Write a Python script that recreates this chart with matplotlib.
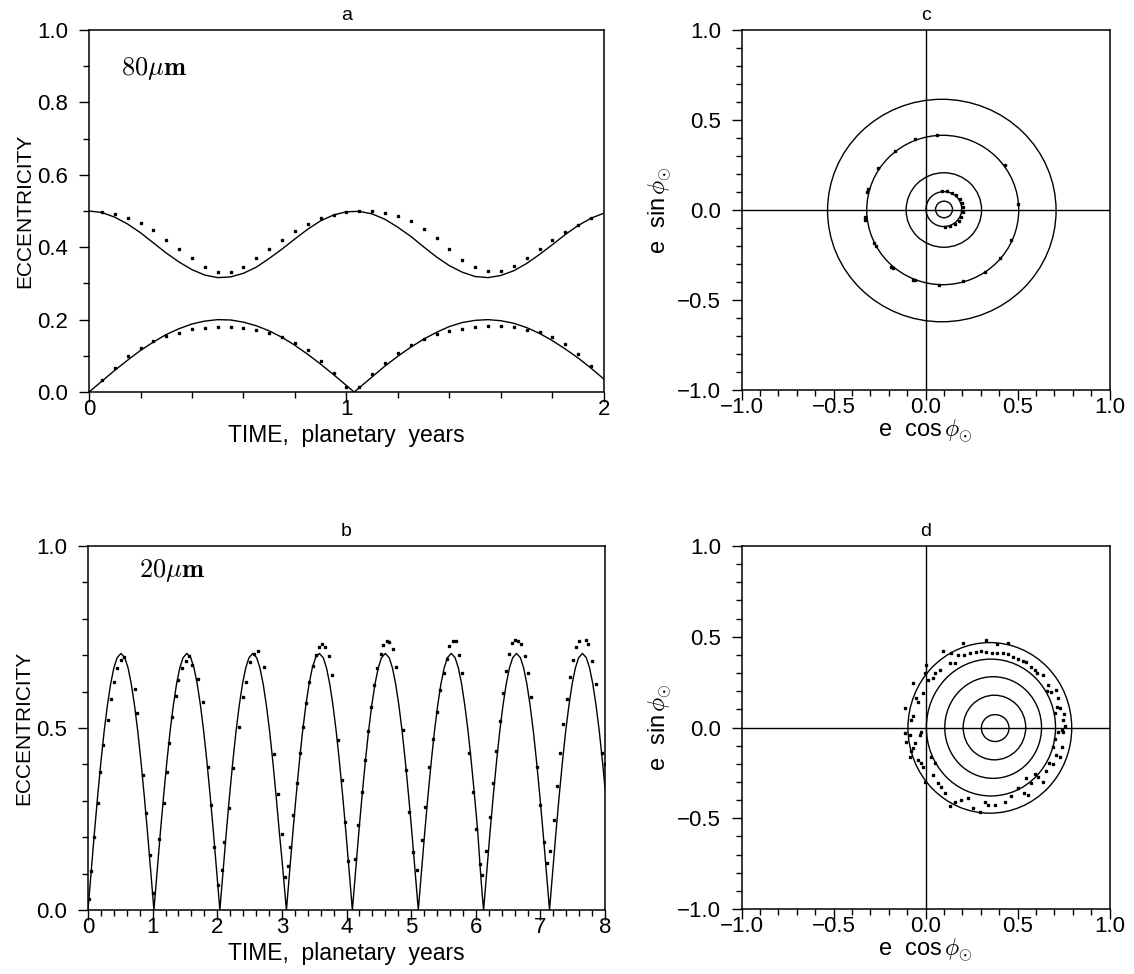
import matplotlib
matplotlib.use('Agg')
import matplotlib.pyplot as plt
from matplotlib.patches import Ellipse
from matplotlib.ticker import MultipleLocator, FuncFormatter

plt.rcParams['font.family'] = ['Liberation Sans', 'DejaVu Sans']
plt.rcParams['mathtext.fontset'] = 'cm'

# --- panel a: 80 micron grain, two starting eccentricities ---
a_time = [0.00, 0.05, 0.10, 0.15, 0.20, 0.25, 0.30, 0.35, 0.40, 0.45,
          0.50, 0.55, 0.60, 0.65, 0.70, 0.75, 0.80, 0.85, 0.90, 0.95,
          1.00, 1.05, 1.10, 1.15, 1.20, 1.25, 1.30, 1.35, 1.40, 1.45,
          1.50, 1.55, 1.60, 1.65, 1.70, 1.75, 1.80, 1.85, 1.90, 1.95, 2.00]
a_upper = [0.500, 0.496, 0.483, 0.464, 0.440, 0.412, 0.384, 0.359, 0.338, 0.323,
           0.316, 0.318, 0.328, 0.345, 0.369, 0.395, 0.423, 0.450, 0.473, 0.489,
           0.498, 0.499, 0.492, 0.477, 0.455, 0.430, 0.401, 0.373, 0.349, 0.331,
           0.319, 0.316, 0.322, 0.335, 0.355, 0.380, 0.407, 0.435, 0.460, 0.480, 0.494]
a_time_low = [0.00, 0.05, 0.10, 0.15, 0.20, 0.25, 0.30, 0.35, 0.40, 0.45,
              0.50, 0.55, 0.60, 0.65, 0.70, 0.75, 0.80, 0.85, 0.90, 0.95,
              1.00, 1.03, 1.05, 1.10, 1.15, 1.20, 1.25, 1.30, 1.35, 1.40, 1.45,
              1.50, 1.55, 1.60, 1.65, 1.70, 1.75, 1.80, 1.85, 1.90, 1.95, 2.00]
a_lower = [0.000, 0.030, 0.060, 0.088, 0.115, 0.138, 0.159, 0.175, 0.188, 0.196,
           0.200, 0.199, 0.193, 0.183, 0.169, 0.151, 0.129, 0.104, 0.077, 0.048,
           0.018, 0.000, 0.012, 0.042, 0.072, 0.099, 0.124, 0.146, 0.165, 0.181, 0.192,
           0.198, 0.200, 0.197, 0.190, 0.178, 0.162, 0.142, 0.119, 0.094, 0.066, 0.036]
a_dot_time = [0.05, 0.10, 0.15, 0.20, 0.25, 0.30, 0.35, 0.40, 0.45, 0.50,
              0.55, 0.60, 0.65, 0.70, 0.75, 0.80, 0.85, 0.90, 0.95, 1.00,
              1.05, 1.10, 1.15, 1.20, 1.25, 1.30, 1.35, 1.40, 1.45, 1.50,
              1.55, 1.60, 1.65, 1.70, 1.75, 1.80, 1.85, 1.90, 1.95]
a_dot_upper = [0.496, 0.491, 0.481, 0.467, 0.447, 0.421, 0.396, 0.369, 0.346, 0.332,
               0.332, 0.346, 0.369, 0.395, 0.421, 0.444, 0.465, 0.480, 0.490, 0.497,
               0.501, 0.501, 0.495, 0.486, 0.473, 0.451, 0.426, 0.396, 0.366, 0.344,
               0.335, 0.335, 0.349, 0.371, 0.396, 0.419, 0.443, 0.461, 0.480]
a_dot_lower = [0.032, 0.066, 0.099, 0.122, 0.140, 0.154, 0.164, 0.173, 0.178, 0.181,
               0.181, 0.178, 0.172, 0.163, 0.152, 0.136, 0.115, 0.086, 0.053, 0.015,
               0.014, 0.049, 0.081, 0.109, 0.130, 0.146, 0.159, 0.168, 0.175, 0.179,
               0.182, 0.182, 0.181, 0.172, 0.165, 0.151, 0.132, 0.105, 0.072]

# --- panel b: 20 micron grain ---
b_time = [0.00, 0.03, 0.06, 0.10, 0.15, 0.20, 0.25, 0.30, 0.35, 0.40, 0.45, 0.51, 0.57, 0.62, 0.67, 0.72, 0.77, 0.82, 0.87, 0.92, 0.96, 0.99,
          1.02, 1.05, 1.08, 1.12, 1.17, 1.22, 1.27, 1.32, 1.37, 1.42, 1.47, 1.53, 1.59, 1.64, 1.69, 1.74, 1.79, 1.84, 1.89, 1.94, 1.98, 2.01,
          2.04, 2.07, 2.10, 2.14, 2.19, 2.24, 2.29, 2.34, 2.39, 2.44, 2.49, 2.55, 2.61, 2.66, 2.71, 2.76, 2.81, 2.86, 2.91, 2.96, 3.00, 3.03,
          3.07, 3.10, 3.13, 3.17, 3.22, 3.27, 3.32, 3.37, 3.42, 3.47, 3.52, 3.58, 3.64, 3.69, 3.74, 3.79, 3.84, 3.89, 3.94, 3.99, 4.03, 4.06,
          4.09, 4.12, 4.15, 4.19, 4.24, 4.29, 4.34, 4.39, 4.44, 4.49, 4.54, 4.60, 4.66, 4.71, 4.76, 4.81, 4.86, 4.91, 4.96, 5.01, 5.05, 5.08,
          5.11, 5.14, 5.17, 5.21, 5.26, 5.31, 5.36, 5.41, 5.46, 5.51, 5.56, 5.62, 5.68, 5.73, 5.78, 5.83, 5.88, 5.93, 5.98, 6.03, 6.07, 6.10,
          6.12, 6.15, 6.18, 6.22, 6.27, 6.32, 6.37, 6.42, 6.47, 6.52, 6.57, 6.63, 6.69, 6.74, 6.79, 6.84, 6.89, 6.94, 6.99, 7.04, 7.08, 7.11,
          7.14, 7.17, 7.20, 7.24, 7.29, 7.34, 7.39, 7.44, 7.49, 7.54, 7.59, 7.65, 7.71, 7.76, 7.81, 7.86, 7.91, 7.96, 8.00]
b_ecc = [0.000, 0.065, 0.130, 0.214, 0.314, 0.407, 0.491, 0.562, 0.621, 0.665, 0.693, 0.705, 0.693, 0.665, 0.621, 0.562, 0.491, 0.407, 0.314, 0.214, 0.130, 0.065,
         0.000, 0.065, 0.130, 0.214, 0.314, 0.407, 0.491, 0.562, 0.621, 0.665, 0.693, 0.705, 0.693, 0.665, 0.621, 0.562, 0.491, 0.407, 0.314, 0.214, 0.130, 0.065,
         0.000, 0.065, 0.130, 0.214, 0.314, 0.407, 0.491, 0.562, 0.621, 0.665, 0.693, 0.705, 0.693, 0.665, 0.621, 0.562, 0.491, 0.407, 0.314, 0.214, 0.140, 0.080,
         0.000, 0.065, 0.130, 0.214, 0.314, 0.407, 0.491, 0.562, 0.621, 0.665, 0.693, 0.705, 0.693, 0.665, 0.621, 0.562, 0.491, 0.407, 0.314, 0.214, 0.130, 0.065,
         0.000, 0.065, 0.130, 0.214, 0.314, 0.407, 0.491, 0.562, 0.621, 0.665, 0.693, 0.705, 0.693, 0.665, 0.621, 0.562, 0.491, 0.407, 0.314, 0.214, 0.130, 0.065,
         0.000, 0.065, 0.130, 0.214, 0.314, 0.407, 0.491, 0.562, 0.621, 0.665, 0.693, 0.705, 0.693, 0.665, 0.621, 0.562, 0.491, 0.407, 0.314, 0.214, 0.110, 0.040,
         0.000, 0.065, 0.130, 0.214, 0.314, 0.407, 0.491, 0.562, 0.621, 0.665, 0.693, 0.705, 0.693, 0.665, 0.621, 0.562, 0.491, 0.407, 0.314, 0.214, 0.130, 0.065,
         0.000, 0.065, 0.130, 0.214, 0.314, 0.407, 0.491, 0.562, 0.621, 0.665, 0.693, 0.705, 0.693, 0.665, 0.621, 0.562, 0.491, 0.407, 0.333]
b_dot_time = [0.02, 0.046, 0.098, 0.149, 0.186, 0.237, 0.304, 0.351, 0.407, 0.454, 0.510, 0.550, 0.727, 0.753, 0.856, 0.897, 0.959, 1.010,
              1.098, 1.170, 1.216, 1.258, 1.304, 1.356, 1.397, 1.448, 1.510, 1.567, 1.613, 1.706, 1.773, 1.861, 1.902, 1.954, 2.015,
              2.067, 2.108, 2.176, 2.243, 2.331, 2.397, 2.452, 2.510, 2.574, 2.630, 2.729, 2.884, 2.939, 2.994, 3.044,
              3.090, 3.127, 3.178, 3.230, 3.282, 3.333, 3.374, 3.426, 3.478, 3.529, 3.581, 3.627, 3.668, 3.730, 3.772, 3.875, 3.927, 3.978, 4.030,
              4.133, 4.184, 4.236, 4.287, 4.329, 4.380, 4.427, 4.478, 4.530, 4.571, 4.623, 4.664, 4.715, 4.767, 4.870, 4.922, 4.973, 5.025, 5.087,
              5.164, 5.215, 5.282, 5.340, 5.400, 5.450, 5.500, 5.550, 5.590, 5.640, 5.690, 5.740, 5.790, 5.900, 5.955, 6.006, 6.058, 6.100,
              6.161, 6.213, 6.264, 6.316, 6.368, 6.414, 6.466, 6.517, 6.558, 6.600, 6.660, 6.703, 6.755, 6.802, 6.853, 6.946, 6.998, 7.049, 7.101,
              7.153, 7.205, 7.256, 7.308, 7.349, 7.411, 7.452, 7.504, 7.555, 7.600, 7.700, 7.743, 7.804, 7.856, 7.949, 8.000]
b_dot_ecc = [0.030, 0.108, 0.201, 0.293, 0.380, 0.453, 0.522, 0.579, 0.627, 0.664, 0.687, 0.695, 0.606, 0.542, 0.371, 0.266, 0.151, 0.046,
             0.194, 0.293, 0.380, 0.460, 0.531, 0.588, 0.632, 0.664, 0.685, 0.698, 0.673, 0.634, 0.572, 0.394, 0.288, 0.174, 0.069,
             0.110, 0.188, 0.279, 0.389, 0.503, 0.586, 0.627, 0.680, 0.704, 0.712, 0.668, 0.428, 0.320, 0.209, 0.091,
             0.120, 0.174, 0.261, 0.348, 0.430, 0.504, 0.568, 0.627, 0.670, 0.700, 0.722, 0.731, 0.723, 0.698, 0.646, 0.467, 0.357, 0.243, 0.136,
             0.139, 0.234, 0.325, 0.412, 0.492, 0.559, 0.618, 0.664, 0.703, 0.728, 0.739, 0.737, 0.716, 0.669, 0.495, 0.385, 0.270, 0.160, 0.110,
             0.192, 0.284, 0.394, 0.470, 0.545, 0.605, 0.650, 0.690, 0.725, 0.740, 0.738, 0.700, 0.650, 0.430, 0.325, 0.222, 0.126, 0.096,
             0.163, 0.255, 0.348, 0.437, 0.520, 0.595, 0.658, 0.703, 0.734, 0.742, 0.740, 0.731, 0.699, 0.652, 0.584, 0.394, 0.288, 0.188, 0.130,
             0.163, 0.247, 0.341, 0.430, 0.511, 0.579, 0.639, 0.687, 0.722, 0.740, 0.742, 0.731, 0.685, 0.621, 0.432, 0.400]

# --- panel c: e-vector trajectories, 80 micron ---
c_cx = [0.088, 0.093, 0.099, 0.099, 0.100]
c_cy = [-0.003, 0.000, 0.000, 0.005, 0.003]
c_rx = [0.621, 0.413, 0.205, 0.097, 0.046]
c_ry = [0.618, 0.415, 0.207, 0.097, 0.046]
c_dot_x = [-0.056, 0.064, -0.166, -0.260, -0.316, -0.312, -0.330, -0.330, -0.280, -0.272, -0.186, -0.180,
           -0.066, -0.058, 0.074, 0.204, 0.324, 0.404, 0.464, 0.504, 0.434,
           0.090, 0.117, 0.143, 0.167, 0.185, 0.198, 0.204, 0.202, 0.194, 0.179, 0.159, 0.135, 0.108]
c_dot_y = [0.392, 0.416, 0.329, 0.231, 0.102, 0.115, -0.037, -0.055, -0.185, -0.200, -0.314, -0.322,
           -0.388, -0.390, -0.416, -0.397, -0.342, -0.264, -0.166, 0.033, 0.249,
           0.105, 0.104, 0.096, 0.082, 0.062, 0.039, 0.014, -0.012, -0.037, -0.059, -0.077, -0.089, -0.095]

# --- panel d: e-vector trajectories, 20 micron ---
d_cx = [0.349, 0.355, 0.367, 0.374, 0.378]
d_cy = [-0.002, 0.000, 0.000, 0.000, -0.003]
d_rx = [0.445, 0.351, 0.263, 0.170, 0.075]
d_ry = [0.470, 0.377, 0.280, 0.178, 0.074]
d_dot_x = [0.203, 0.327, 0.390, 0.448, 0.094, 0.136, 0.176, 0.209, 0.240, 0.276, 0.303, 0.330, 0.361, 0.390,
           0.421, 0.445, 0.475, 0.503, 0.530, 0.548, 0.575, 0.593, 0.608, 0.639, 0.666, 0.657, 0.684, 0.711,
           0.720, 0.715, 0.702, 0.730, 0.753, 0.748, 0.757, 0.739, 0.720, 0.748, 0.702, 0.693, 0.742, 0.711,
           0.730, 0.670, 0.690, 0.652, 0.612, 0.597, 0.548, 0.575, 0.639, 0.503, 0.535, 0.557, 0.466, 0.430,
           0.376, 0.339, 0.321, 0.294, 0.258, 0.230, 0.194, 0.158, 0.131, 0.103, 0.085, 0.067, 0.040, 0.049,
           0.027, -0.005, -0.013, -0.024, -0.042, -0.078, -0.087, -0.069, -0.060, -0.105, -0.114, -0.087,
           -0.033, -0.024, -0.078, -0.069, -0.114, -0.042, -0.051, -0.015, 0.013, 0.040, 0.049, 0.076,
           -0.069, 0.131, 0.158, 0.000, -0.005]
d_dot_y = [0.468, 0.483, 0.461, 0.465, 0.424, 0.410, 0.397, 0.400, 0.410, 0.415, 0.424, 0.415, 0.413, 0.410,
           0.413, 0.404, 0.388, 0.378, 0.369, 0.360, 0.336, 0.318, 0.299, 0.290, 0.235, 0.204, 0.198, 0.208,
           0.162, 0.112, 0.079, 0.107, 0.075, 0.042, 0.009, -0.013, -0.022, -0.022, -0.064, -0.105, -0.105, -0.151,
           -0.160, -0.197, -0.200, -0.242, -0.270, -0.257, -0.279, -0.307, -0.298, -0.334, -0.362, -0.371, -0.376, -0.408,
           -0.426, -0.426, -0.413, -0.463, -0.444, -0.389, -0.399, -0.408, -0.435, -0.362, -0.325, -0.307, -0.261, -0.197,
           -0.160, -0.298, -0.215, -0.197, -0.178, -0.132, -0.160, -0.114, -0.086, -0.077, -0.031, -0.040,
           -0.040, -0.022, 0.042, 0.061, 0.107, 0.143, 0.162, 0.189, 0.263, 0.272, 0.299, 0.318,
           0.244, 0.354, 0.358, 0.345, 0.299]

LW = 1.0
TICK_FS = 16
LABEL_FS = 15


def fmt(spec):
    # printf style, but with a real minus sign
    return FuncFormatter(lambda v, pos: (spec % v).replace('-', '\u2212'))


def style_axes(ax, xmaj, xmin, ymaj, ymin, xfmt, yfmt):
    ax.xaxis.set_major_locator(MultipleLocator(xmaj))
    ax.xaxis.set_minor_locator(MultipleLocator(xmin))
    ax.yaxis.set_major_locator(MultipleLocator(ymaj))
    ax.yaxis.set_minor_locator(MultipleLocator(ymin))
    ax.xaxis.set_major_formatter(fmt(xfmt))
    ax.yaxis.set_major_formatter(fmt(yfmt))
    ax.tick_params(which='both', direction='out', top=False, right=False, width=1.0)
    ax.tick_params(which='major', length=7, labelsize=TICK_FS)
    ax.tick_params(which='minor', length=4)
    ax.tick_params(axis='x', which='major', pad=-2)
    ax.tick_params(axis='y', which='major', pad=8)
    for s in ax.spines.values():
        s.set_linewidth(1.1)


def dots(ax, x, y):
    ax.plot(x, y, linestyle='none', marker='s', markersize=1.8, color='black')


fig = plt.figure(figsize=(11.34, 9.74), dpi=100)
ax_a = fig.add_axes([0.0785, 0.5975, 0.454, 0.3717])
ax_c = fig.add_axes([0.654, 0.5996, 0.3245, 0.3696])
ax_b = fig.add_axes([0.0776, 0.0657, 0.456, 0.3737])
ax_d = fig.add_axes([0.654, 0.0667, 0.3245, 0.3727])

# a
ax_a.plot(a_time, a_upper, color='black', lw=LW)
ax_a.plot(a_time_low, a_lower, color='black', lw=LW)
dots(ax_a, a_dot_time, a_dot_upper)
dots(ax_a, a_dot_time, a_dot_lower)
ax_a.set_xlim(0, 2)
ax_a.set_ylim(0, 1)
style_axes(ax_a, 1, 0.2, 0.2, 0.1, '%d', '%.1f')
ax_a.set_title('a', fontsize=14, pad=7)
ax_a.set_ylabel('ECCENTRICITY', fontsize=LABEL_FS, labelpad=2)
ax_a.set_xlabel('TIME,  planetary  years', fontsize=16.5, labelpad=3)
ax_a.text(0.062, 0.875, r'$\mathbf{80}\mu\mathbf{m}$', transform=ax_a.transAxes,
          fontsize=19, va='baseline')

# b
ax_b.plot(b_time, b_ecc, color='black', lw=LW)
dots(ax_b, b_dot_time, b_dot_ecc)
ax_b.set_xlim(0, 8)
ax_b.set_ylim(0, 1)
style_axes(ax_b, 1, 0.2, 0.5, 0.1, '%d', '%.1f')
ax_b.set_title('b', fontsize=14, pad=7)
ax_b.set_ylabel('ECCENTRICITY', fontsize=LABEL_FS, labelpad=2)
ax_b.set_xlabel('TIME,  planetary  years', fontsize=16.5, labelpad=3)
ax_b.text(0.099, 0.915, r'$\mathbf{20}\mu\mathbf{m}$', transform=ax_b.transAxes,
          fontsize=19, va='baseline')

# c and d
for ax, cx, cy, rx, ry, dx, dy, name in [
        (ax_c, c_cx, c_cy, c_rx, c_ry, c_dot_x, c_dot_y, 'c'),
        (ax_d, d_cx, d_cy, d_rx, d_ry, d_dot_x, d_dot_y, 'd')]:
    ax.axhline(0, color='black', lw=LW)
    ax.axvline(0, color='black', lw=LW)
    for x0, y0, w, h in zip(cx, cy, rx, ry):
        ax.add_patch(Ellipse((x0, y0), 2 * w, 2 * h, fill=False,
                             edgecolor='black', lw=LW))
    dots(ax, dx, dy)
    ax.set_xlim(-1, 1)
    ax.set_ylim(-1, 1)
    style_axes(ax, 0.5, 0.1, 0.5, 0.1, '%.1f', '%.1f')
    ax.set_title(name, fontsize=14, pad=7)
    ax.set_xlabel(r'e  cos$\,\phi_{\odot}$', fontsize=17, labelpad=0)
    ax.set_ylabel(r'e  sin$\,\phi_{\odot}$', fontsize=17, labelpad=2)

fig.savefig('out.png', dpi=100)
